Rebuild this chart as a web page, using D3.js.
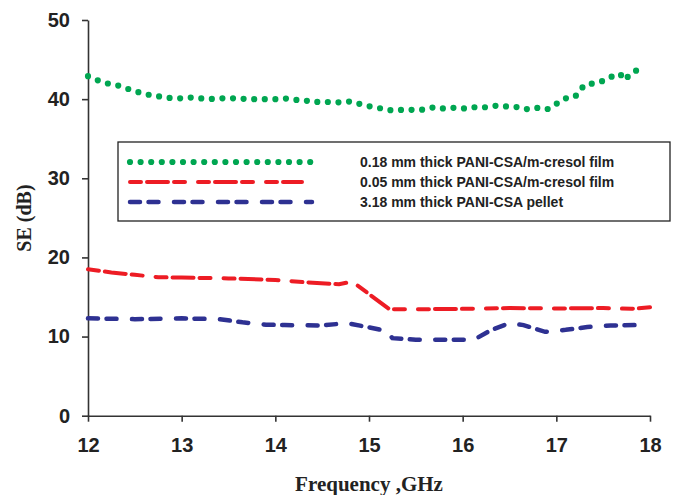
<!DOCTYPE html>
<meta charset="utf-8">
<style>
  body { margin: 0; background: #ffffff; }
  .axis path, .axis line { stroke: #333333; stroke-width: 1.6px; }
  .axis text { font-family: "Liberation Sans", Arial, sans-serif; font-weight: bold; font-size: 20px; fill: #222222; }
  .title { font-family: "Liberation Serif", "Times New Roman", serif; font-weight: bold; fill: #222222; }
  .legendText { font-family: "Liberation Sans", Arial, sans-serif; font-weight: bold; font-size: 14px; fill: #222222; }
</style>
<body>
<script src="https://cdn.jsdelivr.net/npm/d3@7"></script>
<script>

// series labels
var seriesNames = ["0.18 mm thick PANI-CSA/m-cresol film",
                   "0.05 mm thick PANI-CSA/m-cresol film",
                   "3.18 mm thick PANI-CSA pellet"];

// 0.18 mm film (green dots)
var greenFreq = [12.0,12.1,12.2,12.3,12.4,12.5,12.6,12.7,12.8,12.9,13.0,13.1,13.2,13.3,13.4,13.5,13.6,13.7,13.8,13.9,
                 14.0,14.1,14.2,14.3,14.4,14.5,14.6,14.7,14.8,14.9,15.0,15.1,15.2,15.3,15.4,15.5,15.6,15.7,15.8,15.9,
                 16.0,16.1,16.2,16.3,16.4,16.5,16.6,16.7,16.8,16.9,17.0,17.1,17.2,17.3,17.4,17.5,17.6,17.68,17.73,17.8,17.87,17.95];
var greenSE = [42.9,42.4,42.0,41.8,41.4,41.0,40.7,40.4,40.3,40.1,40.1,40.2,40.1,40.0,40.1,40.1,40.1,40.0,40.0,40.0,
               40.0,40.1,39.9,39.9,39.6,39.7,39.6,39.6,39.7,39.4,39.1,38.9,38.6,38.6,38.7,38.6,38.7,39.0,38.8,38.9,
               38.8,39.0,38.9,39.1,39.2,39.0,39.0,38.7,38.9,38.7,39.4,40.1,40.3,41.8,42.0,42.3,42.9,43.2,42.4,43.3,43.7,43.3];

// 0.05 mm film (red dashes)
var redFreq = [12.0,12.25,12.5,12.75,13.0,13.5,14.0,14.4,14.68,14.82,15.22,15.5,16.0,16.5,17.0,17.5,17.8,18.0];
var redSE = [18.5,18.1,17.8,17.5,17.45,17.35,17.15,16.8,16.6,16.95,13.45,13.45,13.5,13.6,13.55,13.6,13.5,13.7];

// 3.18 mm pellet (blue dashes)
var blueFreq = [12.0,12.5,13.0,13.4,13.65,13.9,14.1,14.5,14.76,14.94,15.19,15.25,15.5,16.12,16.3,16.5,16.65,16.88,17.1,17.33,17.58,17.86];
var blueSE = [12.3,12.2,12.3,12.2,11.8,11.5,11.45,11.4,11.7,11.3,10.7,9.8,9.6,9.6,10.8,11.7,11.45,10.6,10.85,11.2,11.4,11.45];

var xTicks = [12, 13, 14, 15, 16, 17, 18];
var yTicks = [0, 10, 20, 30, 40, 50];

var W = 673, H = 495;
var margin = {top: 20, right: 23, bottom: 79.3, left: 88};
var width = W - margin.left - margin.right,
    height = H - margin.top - margin.bottom;

var svg = d3.select("body").append("svg")
    .attr("width", W)
    .attr("height", H);

var g = svg.append("g")
    .attr("transform", "translate(" + margin.left + "," + margin.top + ")");

var x = d3.scaleLinear().domain([12, 18]).range([0, width]);
var y = d3.scaleLinear().domain([0, 50]).range([height, 0]);

// axes
g.append("g")
    .attr("class", "axis")
    .attr("transform", "translate(0," + height + ")")
    .call(d3.axisBottom(x).tickValues(xTicks).tickSize(6).tickSizeOuter(0).tickPadding(16).tickFormat(d3.format("d")));

g.append("g")
    .attr("class", "axis")
    .call(d3.axisLeft(y).tickValues(yTicks).tickSize(6).tickSizeOuter(0).tickPadding(12).tickFormat(d3.format("d")));

// axis titles
svg.append("text")
    .attr("class", "title")
    .attr("x", 369)
    .attr("y", 491)
    .attr("text-anchor", "middle")
    .style("font-size", "21px")
    .text("Frequency ,GHz");

svg.append("text")
    .attr("class", "title")
    .attr("transform", "translate(31,218) rotate(-90)")
    .attr("text-anchor", "middle")
    .style("font-size", "20px")
    .text("SE (dB)");

var line = d3.line()
    .x(function(d) { return x(d[0]); })
    .y(function(d) { return y(d[1]); });

function pairs(xs, ys) { return xs.map(function(v, i) { return [v, ys[i]]; }); }

var styles = [
  {color: "#00a651", width: 6.2, dash: "0,10.6"},
  {color: "#ed1c24", width: 4,   dash: "11,6,21,6,11,13"},
  {color: "#2e3192", width: 4.5, dash: "10,8.5,10,15.5"}
];

var seriesData = [pairs(greenFreq, greenSE), pairs(redFreq, redSE), pairs(blueFreq, blueSE)];

seriesData.forEach(function(d, i) {
  g.append("path")
    .datum(d)
    .attr("d", line)
    .attr("fill", "none")
    .attr("stroke", styles[i].color)
    .attr("stroke-width", styles[i].width)
    .attr("stroke-linecap", "round")
    .attr("stroke-dasharray", styles[i].dash);
});

// legend
var legend = svg.append("g");
legend.append("rect")
    .attr("x", 118).attr("y", 142)
    .attr("width", 552).attr("height", 79)
    .attr("fill", "#ffffff")
    .attr("stroke", "#222222")
    .attr("stroke-width", 1.3);

var legendEnds = [313, 302, 312];
seriesNames.forEach(function(name, i) {
  var ly = 162 + i * 20;
  legend.append("line")
    .attr("x1", 130).attr("x2", legendEnds[i])
    .attr("y1", ly).attr("y2", ly)
    .attr("stroke", styles[i].color)
    .attr("stroke-width", styles[i].width)
    .attr("stroke-linecap", "round")
    .attr("stroke-dasharray", styles[i].dash);
  legend.append("text")
    .attr("class", "legendText")
    .attr("x", 360)
    .attr("y", ly + 5)
    .text(name);
});

</script>
</body>
